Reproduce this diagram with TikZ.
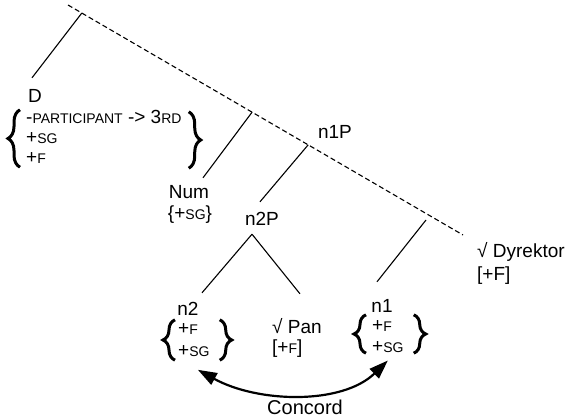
\documentclass[tikz,border=0pt]{standalone}
\usepackage{fontspec}
\setmainfont{Liberation Sans}
\usetikzlibrary{calc,arrows.meta,decorations.pathreplacing}
\newcommand\smc[1]{{\fontsize{14}{16}\selectfont #1}}
\begin{document}
\begin{tikzpicture}[x=1pt,y=-1pt,
  font=\fontsize{19}{20}\selectfont,
  lab/.style={inner sep=0pt, text height=14pt, text depth=4pt, anchor=base},
  feat/.style={inner sep=0pt, anchor=base west},
  branch/.style={line width=1.1pt},
  spine/.style={line width=1.1pt, dash pattern=on 5pt off 3pt},
  bracedeco/.style={decorate, decoration={brace, amplitude=12pt}, line width=3pt},
  concord/.style={line width=2.2pt, {Triangle[length=19pt,width=13pt]}-{Triangle[length=19pt,width=13pt]}}
]
\useasboundingbox (0,0) rectangle (570,420);

% spine
\coordinate (top) at (68,5);
\coordinate (dend) at (463,235);
\draw[spine] (top) -- (dend);
\coordinate (jD) at ($(top)!0.035!(dend)$);
\coordinate (jNum) at ($(top)!0.466!(dend)$);
\coordinate (jn1P) at ($(top)!0.608!(dend)$);
\coordinate (n1top) at (426,220);

% labels
\node[lab] (D) at (35,102) {D};
\node[feat] (dF) at (26,123) {\begin{tabular}[t]{@{}l@{}}-\smc{PARTICIPANT} -> 3\smc{RD}\\+\smc{SG}\\+\smc{F}\end{tabular}};
\node[lab] (Num) at (189,198) {Num};
\node[lab] (numF) at (190,219) {\{+\smc{SG}\}};
\node[lab] (n1P) at (335,138) {n1P};
\node[lab] (n2P) at (262,225) {n2P};
\node[feat] (dyr) at (477,257) {√ Dyrektor};
\node[feat] (dyrF) at (477,280) {[+F]};
\node[lab] (n2) at (188,315) {n2};
\node[feat] (n2F) at (178,334) {\renewcommand{\arraystretch}{1.1}\begin{tabular}[t]{@{}l@{}}+\smc{F}\\+\smc{SG}\end{tabular}};
\node[lab, anchor=base west] (pan) at (272,333) {√ Pan};
\node[feat] (panF) at (272,353) {[+\smc{F}]};
\node[lab] (n1) at (382,312) {n1};
\node[feat] (n1F) at (372,331) {\renewcommand{\arraystretch}{1.05}\begin{tabular}[t]{@{}l@{}}+\smc{F}\\+\smc{SG}\end{tabular}};
\node[lab, font=\fontsize{20}{22}\selectfont] (conc) at (305,414) {Concord};

% braces
\draw[bracedeco] ([xshift=-6pt,yshift=2pt]dF.south west) -- ([xshift=-6pt,yshift=-1pt]dF.north west);
\draw[bracedeco] ([xshift=7pt,yshift=-3pt]dF.north east) -- ([xshift=7pt,yshift=1pt]dF.south east);
\draw[bracedeco] ([xshift=-3pt,yshift=2.6pt]n2F.south west) -- ([xshift=-3pt,yshift=-1.4pt]n2F.north west);
\draw[bracedeco] ([xshift=10pt,yshift=-1.4pt]n2F.north east) -- ([xshift=10pt,yshift=2.6pt]n2F.south east);
\draw[bracedeco] ([xshift=-6pt,yshift=5.3pt]n1F.south west) -- ([xshift=-6pt,yshift=1.3pt]n1F.north west);
\draw[bracedeco] ([xshift=10pt,yshift=1.3pt]n1F.north east) -- ([xshift=10pt,yshift=5.3pt]n1F.south east);

% branches
\draw[branch] (jD) -- ([xshift=-3pt,yshift=10pt]D.north);
\draw[branch] (jNum) -- ([xshift=14pt,yshift=6pt]Num.north);
\draw[branch] (jn1P) -- ([xshift=-2pt,yshift=9pt]n2P.north);
\coordinate (n2Pb) at ([xshift=-10pt,yshift=-5pt]n2P.south);
\draw[branch] (n2Pb) -- ([xshift=14pt,yshift=8pt]n2.north);
\draw[branch] (n2Pb) -- ([xshift=3pt,yshift=25pt]pan.north);
\draw[branch] (n1top) -- ([xshift=-5pt,yshift=16pt]n1.north);

% concord
\draw[concord] ([xshift=4pt,yshift=-7pt]n2F.south) .. controls (258,403) and (342,405) .. ([yshift=-2pt]n1F.south);
\end{tikzpicture}
\end{document}
